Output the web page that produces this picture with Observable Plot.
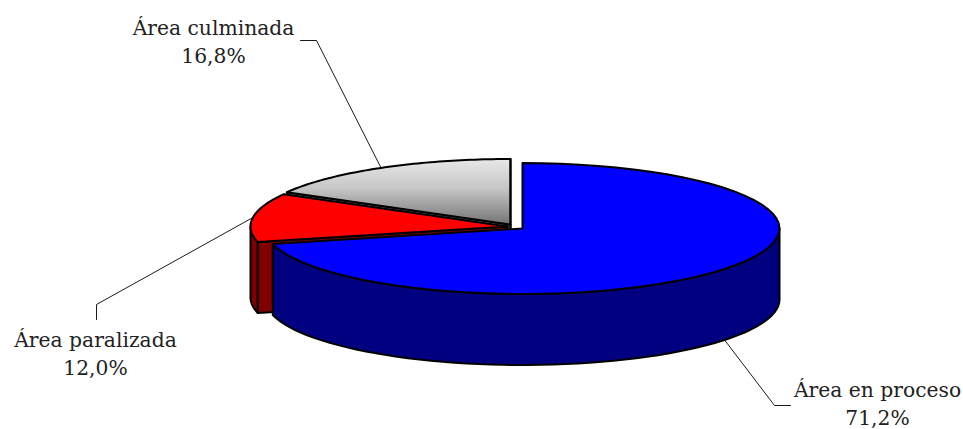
<!DOCTYPE html>
<html>
<head>
<meta charset="utf-8">
<script src="https://cdn.jsdelivr.net/npm/d3@7"></script>
<script src="https://cdn.jsdelivr.net/npm/@observablehq/plot@0.6"></script>
<style>html,body{margin:0;padding:0;background:#fff}svg{display:block}</style>
</head>
<body>
<div id="chart"></div>
<script>
// Data
const names = ["Área en proceso", "Área paralizada", "Área culminada"];
const shares = [71.2, 12.0, 16.8];
const shareLabels = ["71,2%", "12,0%", "16,8%"];
const topColors = ["#0000ff", "#ff0000", "url(#greyFade)"];
const wallColors = ["#000080", "#800000", "#6a6a6a"];

// Layout of the tilted pie
const W = 963, H = 429;
const rx = 257, ry = 65.5, depth = 71;
const centres = [[522, 228], [507, 226], [510, 224]];           // exploded slice centres
const labelAt = [[877, 424], [95, 374], [213, 62]];             // last-line baseline
const elbows = [[[774, 405], [790, 405]], [[96, 304], [96, 319]], [[316, 40], [300, 40]]];

// Slices as angle ranges, clockwise from 12 o'clock
let acc = 0;
const slices = shares.map((v, i) => {
  const a0 = acc / 100 * 2 * Math.PI;
  acc += v;
  const a1 = acc / 100 * 2 * Math.PI;
  return {i, a0, a1, mid: (a0 + a1) / 2, c: centres[i]};
});
const rim = (s, t, dy = 0) => ({x: s.c[0] + rx * Math.sin(t), y: s.c[1] - ry * Math.cos(t) + dy});
const arc = (s, t0, t1, dy = 0) => d3.range(0, 61).map(k => rim(s, t0 + (t1 - t0) * k / 60, dy));
const apex = (s, dy = 0) => ({x: s.c[0], y: s.c[1] + dy});
const closed = pts => [...pts, pts[0]];

const topFace = s => closed([apex(s), ...arc(s, s.a0, s.a1)]);
const outerWall = (s, t0, t1) => closed([...arc(s, t0, t1), ...arc(s, t1, t0, depth)]);
const cutWall = (s, t) => closed([apex(s), rim(s, t), rim(s, t, depth), apex(s, depth)]);

const shape = (pts, fill) => Plot.line(pts, {
  x: "x", y: "y", fill, stroke: "#000", strokeWidth: 2, strokeLinejoin: "round"
});

const [blue, red, grey] = slices;

const gradient = () => {
  const defs = d3.create("svg:defs");
  const g = defs.append("linearGradient").attr("id", "greyFade")
    .attr("x1", 0).attr("y1", 0).attr("x2", 0).attr("y2", 1);
  g.append("stop").attr("offset", "0%").attr("stop-color", "#e8e8e8");
  g.append("stop").attr("offset", "45%").attr("stop-color", "#c6c6c6");
  g.append("stop").attr("offset", "100%").attr("stop-color", "#747474");
  return defs.node();
};

const leaders = slices.map(s => {
  const onFront = s.i === 0;
  return {s, pts: [rim(s, s.mid, onFront ? depth : 0), ...elbows[s.i].map(([x, y]) => ({x, y}))]};
});

const labels = slices.map(s => ({
  text: names[s.i] + "\n" + shareLabels[s.i],
  x: labelAt[s.i][0], y: labelAt[s.i][1]
}));

const chart = Plot.plot({
  width: W, height: H,
  margin: 0,
  x: {domain: [0, W], range: [0, W], axis: null},
  y: {domain: [0, H], range: [0, H], axis: null},
  style: {background: "#fff"},
  marks: [
    gradient,
    shape(cutWall(grey, grey.a0), wallColors[2]),
    shape(topFace(grey), topColors[2]),
    shape(cutWall(grey, grey.a1), "#fff"),
    shape(outerWall(red, red.a0, 1.5 * Math.PI), wallColors[1]),
    shape(cutWall(red, red.a0), wallColors[1]),
    shape(topFace(red), topColors[1]),
    shape(outerWall(blue, Math.PI / 2, blue.a1), wallColors[0]),
    shape(topFace(blue), topColors[0]),
    ...leaders.map(l => Plot.line(l.pts, {x: "x", y: "y", stroke: "#000", strokeWidth: 0.9})),
    Plot.text(labels, {
      x: "x", y: "y", text: "text",
      fontFamily: "DejaVu Serif", fontSize: 20.3, fill: "#222",
      lineAnchor: "bottom", lineHeight: 1.35, textAnchor: "middle"
    })
  ]
});
document.getElementById("chart").append(chart);
</script>
</body>
</html>
